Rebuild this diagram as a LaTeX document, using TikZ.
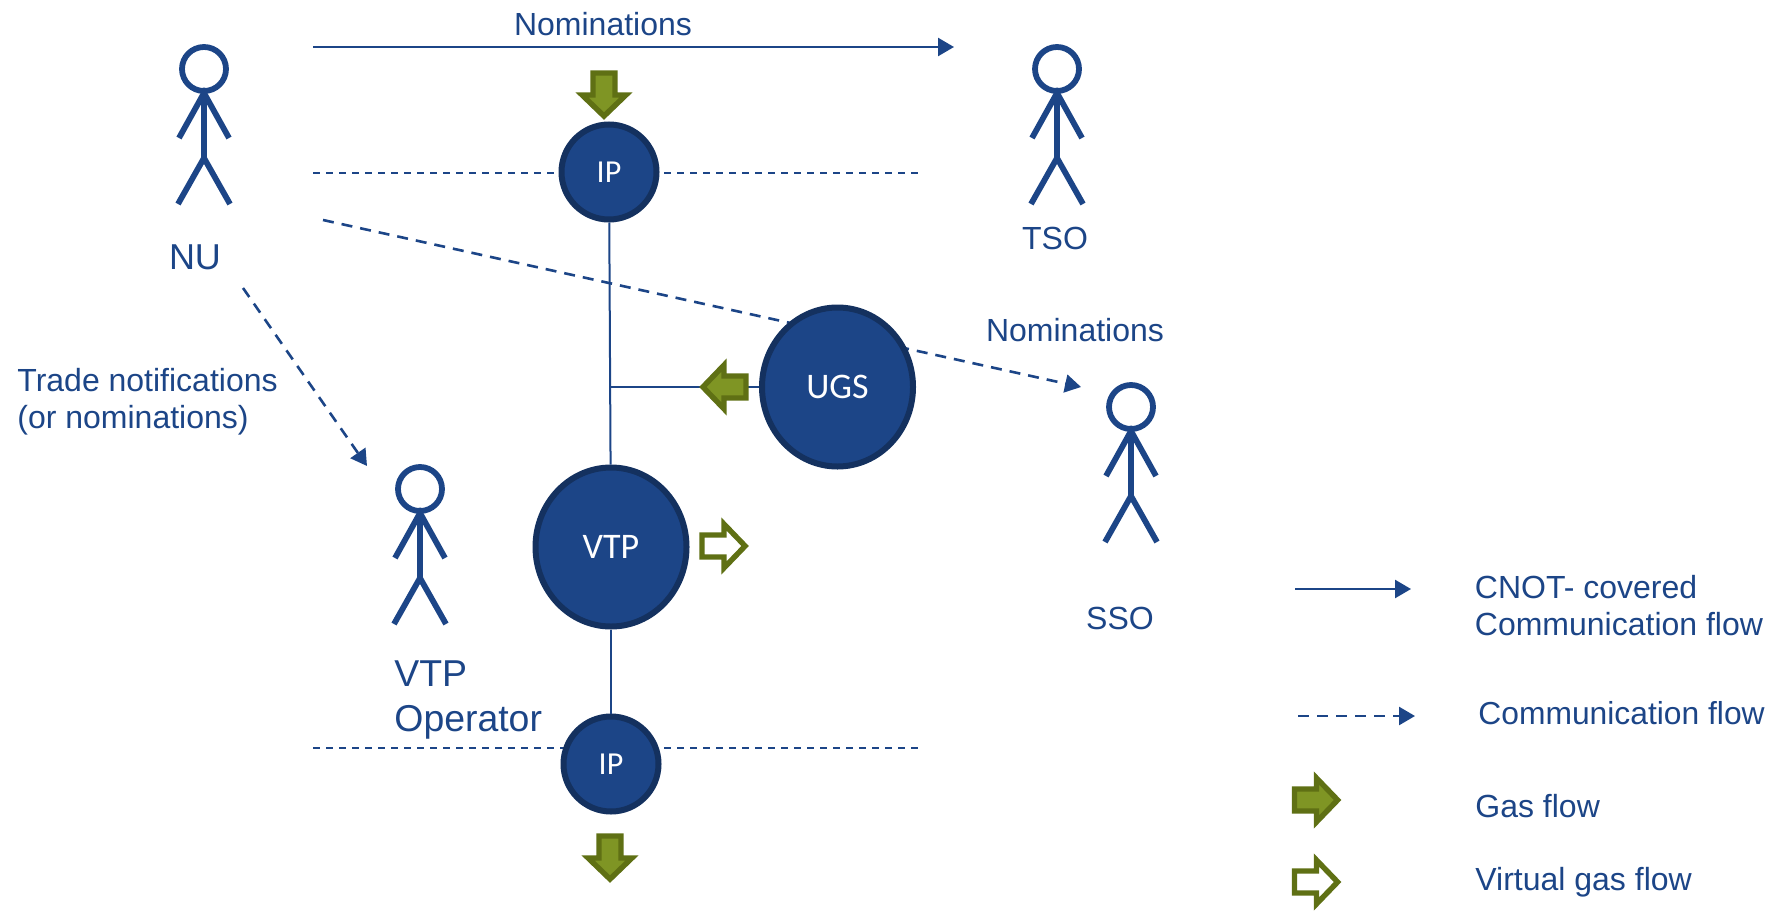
\documentclass[tikz,border=0pt]{standalone}
\usepackage{fontspec}
\setmainfont{Liberation Sans}
\newfontfamily\circfont{Carlito}
\usetikzlibrary{shapes.geometric,arrows.meta}
\definecolor{nblue}{HTML}{1C4587}
\definecolor{ndark}{HTML}{14315F}
\definecolor{gfill}{HTML}{7F9524}
\definecolor{gline}{HTML}{5F7014}
\tikzset{
  x=0.5pt,y=-0.5pt,
  hub/.style={ellipse,draw=ndark,fill=nblue,line width=3pt,inner sep=0pt,text=white,font=\circfont\fontsize{18}{20}\selectfont},
  smallhub/.style={hub,minimum width=47.5pt,minimum height=47.5pt,font=\circfont\fontsize{16}{18}\selectfont},
  bighub/.style={hub,minimum width=75.5pt,minimum height=79.5pt},
  lbl/.style={text=nblue,inner sep=0pt,font=\fontsize{16}{18}\selectfont},
  biglbl/.style={lbl,font=\fontsize{18.7}{20}\selectfont},
  tip/.style={-{Triangle[length=8pt,width=9pt]}},
  solidflow/.style={draw=nblue,line width=1.25pt,tip},
  dashflow/.style={draw=nblue,line width=1.3pt,tip,dash pattern=on 5.5pt off 4pt},
  border/.style={draw=nblue,line width=1pt,dash pattern=on 3.5pt off 3pt},
  pipe/.style={draw=nblue,line width=1pt},
  limb/.style={draw=nblue,line width=2.9pt},
  gasarrow/.style={draw=gline,fill=gfill,line width=2.7pt,miter limit=10},
  virtarrow/.style={draw=gline,fill=white,line width=2.7pt,miter limit=10},
  pics/person/.style={code={
    \draw[limb] (0,0) circle[radius=22];
    \draw[limb] (0,24) -- (0,89);
    \draw[limb] (-25,69) -- (0,24) -- (25,69);
    \draw[limb] (-26,135) -- (0,89) -- (26,135);
  }},
  pics/blockarrow/.style={code={
    \path[#1] (-22,-11) -- (0,-11) -- (0,-21.9) -- (21.1,0) -- (0,21.9) -- (0,11) -- (-22,11) -- cycle;
  }}
}
\begin{document}
\begin{tikzpicture}
\useasboundingbox (0,0) rectangle (1770,910);

% persons
\pic at (204,69) {person};
\pic at (1057,69) {person};
\pic at (1131,407) {person};
\pic at (420,489) {person};

% free ends
\coordinate (nomA) at (313,47);
\coordinate (nomB) at (954,47);
\coordinate (bt1) at (313,172.5);
\coordinate (bt2) at (923,172.5);
\coordinate (bb1) at (313,748);
\coordinate (bb2) at (923,748);
\coordinate (slA) at (323,220);
\coordinate (slB) at (1081,387);
\coordinate (trA) at (243,288);
\coordinate (trB) at (367,466);
\coordinate (lg1a) at (1295,589);
\coordinate (lg1b) at (1411,589);
\coordinate (lg2a) at (1298,716);
\coordinate (lg2b) at (1415,716);
\coordinate (junc) at (610,387);

% lines beneath the hubs
\draw[dashflow] (slA) -- (slB);
\draw[solidflow] (nomA) -- (nomB);
\draw[dashflow] (trA) -- (trB);
\draw[border] (bt1) -- (bt2);
\draw[border] (bb1) -- (bb2);

% hubs
\node[smallhub] (ipt) at (609,172) {IP};
\node[smallhub] (ipb) at (611,764) {IP};
\node[bighub] (ugs) at (837.5,387) {UGS};
\node[bighub] (vtp) at (611,547) {VTP};

% connectors
\draw[pipe] (ipt) -- (vtp);
\draw[pipe] (vtp) -- (ipb);
\draw[pipe] (junc) -- (ugs);
\draw[solidflow] (lg1a) -- (lg1b);
\draw[dashflow] (lg2a) -- (lg2b);

% block arrows
\pic[rotate=-90] at (604,95) {blockarrow=gasarrow};
\pic[rotate=-90] at (610,858) {blockarrow=gasarrow};
\pic[rotate=180] at (724,387) {blockarrow=gasarrow};
\pic at (724,546) {blockarrow=virtarrow};
\pic at (1316.5,800) {blockarrow=gasarrow};
\pic at (1316.5,882) {blockarrow=virtarrow};

% labels
\node[lbl] (t1) at (603,24) {Nominations};
\node[biglbl,font=\fontsize{18}{20}\selectfont] (t2) at (195,257) {NU};
\node[lbl] (t3) at (1055,238) {TSO};
\node[lbl] (t4) at (1075,330) {Nominations};
\node[lbl] (t5) at (1120,618) {SSO};
\node[lbl,anchor=west] (t6) at (17,380) {Trade notifications};
\node[lbl,anchor=west] (t7) at (17,420) {(or nominations)};
\node[biglbl,anchor=west] (t8) at (394,674) {VTP};
\node[biglbl,anchor=west] (t9) at (394,722) {Operator};
\node[lbl,anchor=west] (t10) at (1474.5,587) {CNOT- covered};
\node[lbl,anchor=west] (t11) at (1474.5,624) {Communication flow};
\node[lbl,anchor=west,font=\fontsize{15.9}{18}\selectfont] (t12) at (1478,713) {Communication flow};
\node[lbl,anchor=west] (t13) at (1475,806) {Gas flow};
\node[lbl,anchor=west] (t14) at (1475,882) {Virtual gas flow};
\end{tikzpicture}
\end{document}
